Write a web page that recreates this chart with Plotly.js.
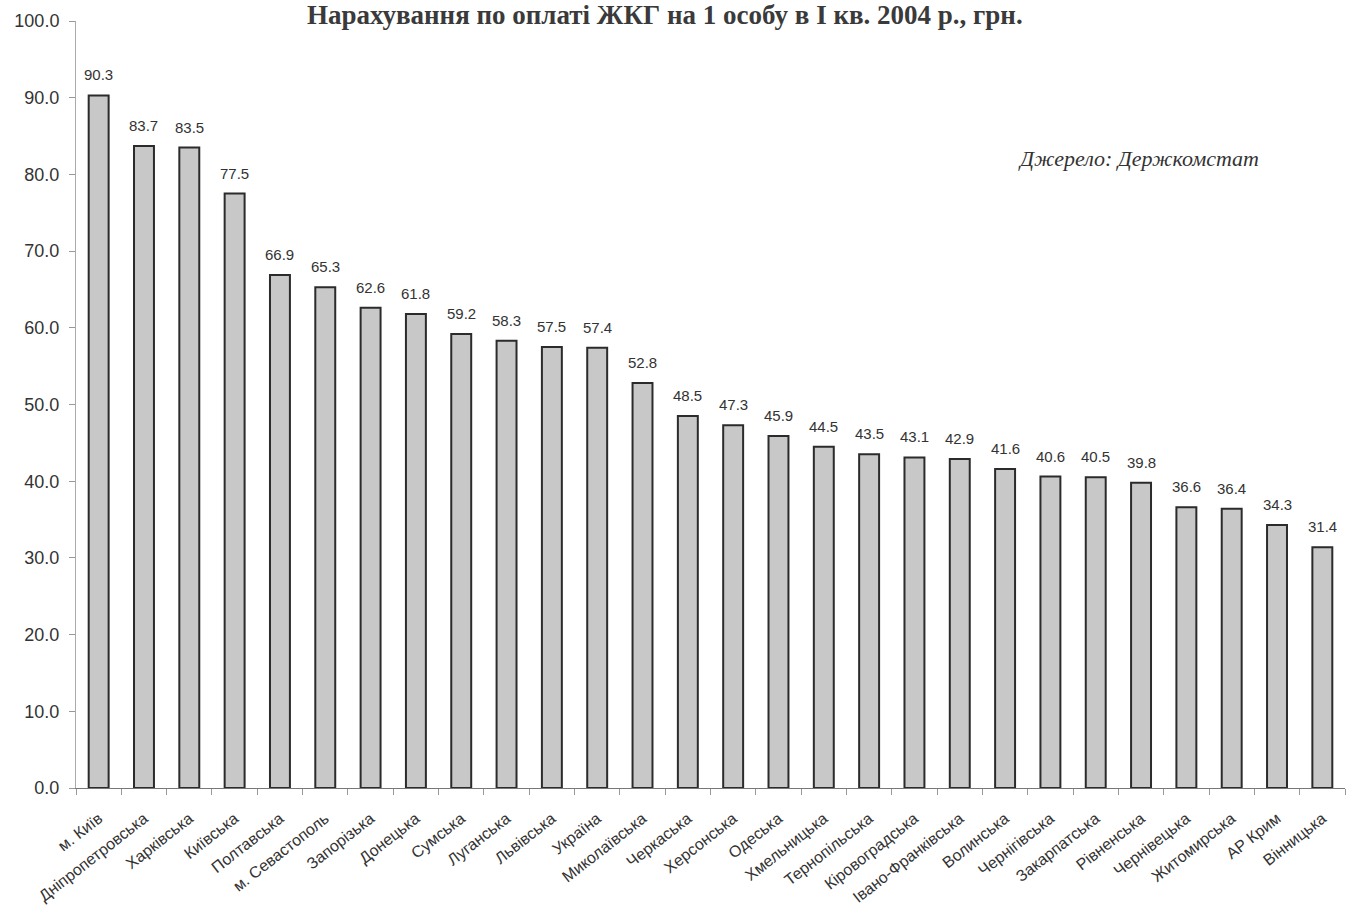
<!DOCTYPE html>
<html>
<head>
<meta charset="utf-8">
<script src="https://cdn.plot.ly/plotly-3.0.1.min.js"></script>
<style>
  html, body { margin: 0; padding: 0; background: #fff; }
  #chart { width: 1359px; height: 921px; }
</style>
</head>
<body>
<div id="chart"></div>
<script>
// Regions of Ukraine, housing & utility charges per person, Q1 2004 (UAH)
const regions = [
  "м. Київ", "Дніпропетровська", "Харківська", "Київська", "Полтавська",
  "м. Севастополь", "Запорізька", "Донецька", "Сумська", "Луганська",
  "Львівська", "Україна", "Миколаївська", "Черкаська", "Херсонська",
  "Одеська", "Хмельницька", "Тернопільська", "Кіровоградська", "Івано-Франківська",
  "Волинська", "Чернігівська", "Закарпатська", "Рівненська", "Чернівецька",
  "Житомирська", "АР Крим", "Вінницька"
];
const charges = [
  90.3, 83.7, 83.5, 77.5, 66.9,
  65.3, 62.6, 61.8, 59.2, 58.3,
  57.5, 57.4, 52.8, 48.5, 47.3,
  45.9, 44.5, 43.5, 43.1, 42.9,
  41.6, 40.6, 40.5, 39.8, 36.6,
  36.4, 34.3, 31.4
];
const yTicks = [0, 10, 20, 30, 40, 50, 60, 70, 80, 90, 100];

const sans = "Liberation Sans, Arial, sans-serif";
const serif = "Liberation Serif, Times New Roman, serif";

const trace = {
  type: "bar",
  x: regions,
  y: charges,
  marker: { color: "#c8c8c8", line: { color: "#2b2b2b", width: 2 } },
  hoverinfo: "x+y"
};

// value labels sitting a little above each bar
const valueLabels = regions.map((r, i) => ({
  x: r, y: charges[i], xref: "x", yref: "y",
  text: charges[i].toFixed(1),
  showarrow: false, xanchor: "center", yanchor: "bottom", yshift: 10,
  font: { family: sans, size: 15, color: "#333" }
}));

const layout = {
  width: 1359,
  height: 921,
  margin: { l: 76, r: 14, t: 21, b: 133 },
  paper_bgcolor: "#fff",
  plot_bgcolor: "#fff",
  bargap: 0.56,
  showlegend: false,
  font: { family: sans, color: "#333" },
  title: {
    text: "<b>Нарахування по оплаті ЖКГ на 1 особу в І кв. 2004 р., грн.</b>",
    font: { family: serif, size: 27, color: "#3a3a3a" },
    x: 0.464, xref: "paper", xanchor: "center", y: 0.984, yanchor: "middle"
  },
  xaxis: {
    type: "category",
    tickangle: -38,
    tickfont: { family: sans, size: 16, color: "#333" },
    showline: true, linecolor: "#777", linewidth: 1,
    ticks: "outside", ticklen: 6, tickcolor: "#999",
    tickson: "boundaries",
    ticklabelstandoff: 14,
    showgrid: false, zeroline: false
  },
  yaxis: {
    range: [0, 100],
    tickvals: yTicks,
    ticktext: yTicks.map(v => v.toFixed(1)),
    tickfont: { family: sans, size: 18, color: "#333" },
    showline: true, linecolor: "#aaa", linewidth: 1,
    ticks: "outside", ticklen: 6, tickcolor: "#999",
    ticklabelstandoff: 6,
    showgrid: false, zeroline: false
  },
  annotations: valueLabels.concat([{
    text: "<i>Джерело: Держкомстат</i>",
    xref: "paper", yref: "paper",
    x: 0.837, y: 0.821, xanchor: "center", yanchor: "middle",
    showarrow: false,
    font: { family: serif, size: 22, color: "#333" }
  }])
};

Plotly.newPlot("chart", [trace], layout, { displayModeBar: false, staticPlot: true });
</script>
</body>
</html>
